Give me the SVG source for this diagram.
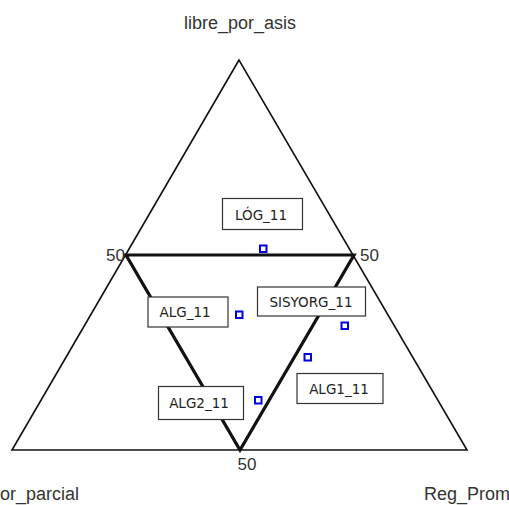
<svg xmlns="http://www.w3.org/2000/svg" width="509" height="505" viewBox="0 0 509 505">
<style>
.axis{font-family:"Liberation Sans",Arial,sans-serif;font-size:18px;fill:#333}
.num{font-family:"Liberation Sans",Arial,sans-serif;font-size:17px;fill:#333}
.box rect{fill:#fff;stroke:#333;stroke-width:1.2}
.box text{font-family:"DejaVu Sans",Verdana,sans-serif;font-size:13.5px;fill:#222;text-anchor:middle}
.pt{fill:none;stroke:#0000e0;stroke-width:2}
</style>
<rect width="509" height="505" fill="#fff"/>
<g id="connectors">
<polygon points="239,60 12,450 467,450" fill="none" stroke="#111" stroke-width="1.6" stroke-linejoin="miter"/>
<polygon points="126,255 354,255 240,450" fill="none" stroke="#111" stroke-width="3.2" stroke-linejoin="miter"/>
</g>
<g id="labels">
<text class="axis" x="240" y="29" text-anchor="middle">libre_por_asis</text>
<text class="axis" x="0" y="500">or_parcial</text>
<text class="axis" x="424" y="500">Reg_Prom</text>
<text class="num" x="125" y="261" text-anchor="end">50</text>
<text class="num" x="360" y="261">50</text>
<text class="num" x="247" y="470" text-anchor="middle">50</text>
</g>
<g id="LOG_11" class="box"><rect x="222.5" y="198.5" width="80" height="31"/><text x="261" y="220">LÓG_11</text></g>
<g id="ALG_11" class="box"><rect x="148" y="297" width="80" height="30"/><text x="185" y="317">ALG_11</text></g>
<g id="SISYORG_11" class="box"><rect x="257.5" y="287" width="108" height="29"/><text x="311" y="307">SISYORG_11</text></g>
<g id="ALG2_11" class="box"><rect x="158.5" y="386.5" width="85" height="33"/><text x="199" y="408">ALG2_11</text></g>
<g id="ALG1_11" class="box"><rect x="297" y="373.5" width="86" height="30"/><text x="339" y="394">ALG1_11</text></g>
<g id="points">
<rect class="pt" x="260" y="245.5" width="6.5" height="6.5"/>
<rect class="pt" x="236" y="311.5" width="6.5" height="6.5"/>
<rect class="pt" x="341.5" y="322.5" width="6.5" height="6.5"/>
<rect class="pt" x="304.5" y="354" width="6.5" height="6.5"/>
<rect class="pt" x="255" y="397" width="6.5" height="6.5"/>
</g>
</svg>
